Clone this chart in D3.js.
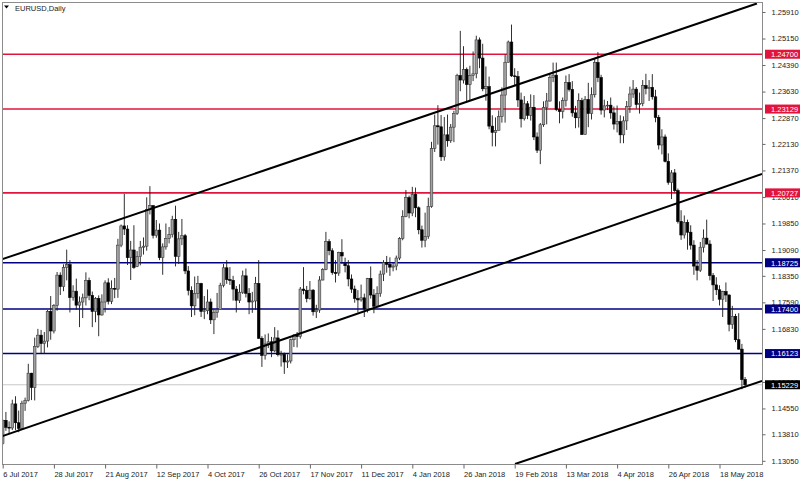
<!DOCTYPE html>
<html><head><meta charset="utf-8">
<script src="https://cdn.jsdelivr.net/npm/d3@7"></script>
<style>body{margin:0;background:#fff}svg{display:block}text{font-family:"Liberation Sans",Arial,sans-serif}</style>
</head><body><svg id="c" width="800" height="480"></svg>
<script>
const openP=[1.1355,1.1421,1.1401,1.1399,1.1468,1.1414,1.1398,1.1470,1.1478,1.1556,
1.1515,1.1633,1.1665,1.1641,1.1648,1.1733,1.1677,1.1750,1.1837,1.1804,
1.1859,1.1867,1.1773,1.1791,1.1751,1.1760,1.1772,1.1822,1.1779,1.1733,
1.1770,1.1723,1.1760,1.1815,1.1762,1.1799,1.1797,1.1923,1.1978,1.1969,
1.1887,1.1909,1.1862,1.1890,1.1917,1.1920,1.2025,1.2036,1.1951,1.1966,
1.1887,1.1918,1.1942,1.1953,1.1997,1.1891,1.1941,1.1950,1.1849,1.1793,
1.1749,1.1785,1.1813,1.1733,1.1735,1.1760,1.1709,1.1730,1.1738,1.1808,
1.1858,1.1824,1.1822,1.1797,1.1765,1.1788,1.1835,1.1785,1.1760,1.1763,
1.1813,1.1656,1.1607,1.1640,1.1646,1.1620,1.1657,1.1609,1.1610,1.1588,
1.1591,1.1652,1.1665,1.1661,1.1797,1.1793,1.1770,1.1794,1.1732,1.1737,
1.1823,1.1853,1.1933,1.1907,1.1844,1.1843,1.1902,1.1870,1.1864,1.1826,
1.1797,1.1770,1.1766,1.1772,1.1740,1.1827,1.1780,1.1748,1.1784,1.1840,
1.1873,1.1868,1.1860,1.1863,1.1886,1.1942,1.2005,1.2059,1.2015,1.2068,
1.2030,1.1967,1.1937,1.1948,1.2034,1.2200,1.2265,1.2262,1.2176,1.2239,
1.2222,1.2261,1.2300,1.2409,1.2396,1.2426,1.2383,1.2409,1.2414,1.2511,
1.2459,1.2371,1.2377,1.2264,1.2246,1.2252,1.2291,1.2353,1.2447,1.2505,
1.2408,1.2406,1.2339,1.2285,1.2328,1.2295,1.2318,1.2233,1.2195,1.2268,
1.2317,1.2336,1.2404,1.2410,1.2312,1.2306,1.2337,1.2389,1.2369,1.2302,
1.2288,1.2337,1.2240,1.2340,1.2300,1.2354,1.2446,1.2403,1.2310,1.2322,
1.2324,1.2302,1.2270,1.2277,1.2239,1.2279,1.2320,1.2356,1.2370,1.2326,
1.2329,1.2380,1.2372,1.2375,1.2348,1.2289,1.2210,1.2233,1.2163,1.2103,
1.2130,1.2079,1.1991,1.1952,1.1988,1.1960,1.1923,1.1863,1.1851,1.1917,
1.1943,1.1926,1.1836,1.1809,1.1795,1.1768,1.1790,1.1780,1.1696,1.1719,
1.1652,1.1625,1.1538];
const highP=[1.1424,1.1445,1.1418,1.1480,1.1490,1.1449,1.1477,1.1486,1.1583,1.1557,
1.1658,1.1683,1.1680,1.1674,1.1737,1.1777,1.1754,1.1846,1.1845,1.1868,
1.1910,1.1880,1.1808,1.1827,1.1776,1.1784,1.1845,1.1830,1.1790,1.1774,
1.1779,1.1782,1.1822,1.1828,1.1822,1.1829,1.1941,1.1982,1.2070,1.1980,
1.1935,1.1980,1.1906,1.1935,1.1945,1.2060,1.2092,1.2038,1.1995,1.1985,
1.1928,1.1985,1.1975,1.2007,1.2036,1.1961,1.1998,1.1955,1.1863,1.1805,
1.1833,1.1835,1.1815,1.1777,1.1796,1.1770,1.1739,1.1786,1.1815,1.1869,
1.1880,1.1860,1.1835,1.1806,1.1811,1.1850,1.1856,1.1800,1.1789,1.1832,
1.1880,1.1662,1.1667,1.1670,1.1660,1.1688,1.1679,1.1620,1.1615,1.1610,
1.1655,1.1668,1.1674,1.1803,1.1860,1.1806,1.1820,1.1797,1.1752,1.1834,
1.1857,1.1961,1.1940,1.1914,1.1880,1.1904,1.1940,1.1887,1.1880,1.1839,
1.1807,1.1794,1.1810,1.1784,1.1829,1.1862,1.1797,1.1805,1.1850,1.1880,
1.1892,1.1888,1.1872,1.1893,1.1946,1.2023,1.2081,1.2065,1.2090,1.2088,
1.2034,1.1979,1.2016,1.2059,1.2219,1.2297,1.2324,1.2296,1.2290,1.2297,
1.2270,1.2308,1.2414,1.2537,1.2493,1.2432,1.2437,1.2478,1.2523,1.2518,
1.2500,1.2435,1.2406,1.2295,1.2289,1.2309,1.2375,1.2469,1.2509,1.2555,
1.2430,1.2422,1.2360,1.2350,1.2336,1.2355,1.2353,1.2246,1.2273,1.2335,
1.2359,1.2416,1.2446,1.2446,1.2335,1.2346,1.2409,1.2413,1.2393,1.2322,
1.2358,1.2345,1.2350,1.2388,1.2375,1.2456,1.2476,1.2411,1.2340,1.2336,
1.2346,1.2320,1.2323,1.2295,1.2292,1.2336,1.2377,1.2396,1.2376,1.2360,
1.2396,1.2414,1.2396,1.2413,1.2368,1.2296,1.2255,1.2240,1.2186,1.2138,
1.2141,1.2085,1.2023,1.2008,1.1996,1.1980,1.1937,1.1880,1.1932,1.1968,
1.1996,1.1937,1.1843,1.1831,1.1808,1.1792,1.1816,1.1782,1.1749,1.1726,
1.1728,1.1640,1.1545];
const lowP=[1.1350,1.1391,1.1381,1.1393,1.1393,1.1387,1.1394,1.1448,1.1475,1.1479,
1.1478,1.1628,1.1613,1.1611,1.1630,1.1652,1.1670,1.1735,1.1780,1.1791,
1.1822,1.1730,1.1764,1.1738,1.1688,1.1714,1.1750,1.1765,1.1688,1.1702,
1.1662,1.1721,1.1730,1.1753,1.1754,1.1771,1.1772,1.1917,1.1952,1.1866,
1.1823,1.1855,1.1860,1.1865,1.1896,1.1907,1.2011,1.1942,1.1944,1.1880,
1.1838,1.1910,1.1928,1.1945,1.1862,1.1869,1.1923,1.1840,1.1779,1.1717,
1.1722,1.1770,1.1717,1.1711,1.1725,1.1697,1.1668,1.1715,1.1737,1.1802,
1.1812,1.1809,1.1764,1.1730,1.1757,1.1783,1.1773,1.1725,1.1729,1.1738,
1.1655,1.1574,1.1595,1.1628,1.1602,1.1616,1.1604,1.1575,1.1554,1.1571,
1.1584,1.1631,1.1630,1.1655,1.1782,1.1759,1.1767,1.1721,1.1714,1.1729,
1.1822,1.1851,1.1894,1.1838,1.1816,1.1835,1.1869,1.1845,1.1805,1.1786,
1.1758,1.1730,1.1761,1.1717,1.1730,1.1770,1.1728,1.1746,1.1775,1.1820,
1.1844,1.1835,1.1848,1.1851,1.1880,1.1937,1.2003,1.2000,1.2006,1.2003,
1.1954,1.1916,1.1917,1.1941,1.2030,1.2190,1.2211,1.2164,1.2165,1.2205,
1.2216,1.2218,1.2296,1.2364,1.2386,1.2335,1.2336,1.2393,1.2401,1.2430,
1.2364,1.2337,1.2255,1.2206,1.2206,1.2252,1.2274,1.2274,1.2446,1.2405,
1.2380,1.2319,1.2260,1.2280,1.2284,1.2280,1.2224,1.2187,1.2155,1.2262,
1.2269,1.2334,1.2390,1.2307,1.2272,1.2286,1.2320,1.2363,1.2291,1.2258,
1.2260,1.2239,1.2240,1.2261,1.2283,1.2346,1.2390,1.2297,1.2289,1.2310,
1.2285,1.2254,1.2246,1.2215,1.2215,1.2253,1.2302,1.2345,1.2314,1.2300,
1.2321,1.2355,1.2336,1.2340,1.2275,1.2197,1.2183,1.2160,1.2096,1.2055,
1.2074,1.1985,1.1938,1.1942,1.1910,1.1910,1.1838,1.1822,1.1846,1.1902,
1.1925,1.1822,1.1763,1.1780,1.1750,1.1717,1.1760,1.1676,1.1683,1.1645,
1.1623,1.1510,1.1515];
const closeP=[1.1421,1.1401,1.1399,1.1468,1.1414,1.1398,1.1470,1.1478,1.1556,1.1515,
1.1633,1.1665,1.1641,1.1648,1.1733,1.1677,1.1750,1.1837,1.1804,1.1859,
1.1867,1.1773,1.1791,1.1751,1.1760,1.1772,1.1822,1.1779,1.1733,1.1770,
1.1723,1.1760,1.1815,1.1762,1.1799,1.1797,1.1923,1.1978,1.1969,1.1887,
1.1909,1.1859,1.1890,1.1917,1.1920,1.2025,1.2036,1.1951,1.1966,1.1887,
1.1918,1.1942,1.1953,1.1997,1.1891,1.1941,1.1950,1.1849,1.1793,1.1749,
1.1785,1.1813,1.1733,1.1735,1.1760,1.1709,1.1730,1.1738,1.1808,1.1858,
1.1824,1.1822,1.1797,1.1765,1.1788,1.1835,1.1785,1.1760,1.1763,1.1813,
1.1656,1.1607,1.1640,1.1646,1.1620,1.1657,1.1609,1.1610,1.1588,1.1591,
1.1652,1.1665,1.1661,1.1797,1.1793,1.1770,1.1794,1.1732,1.1737,1.1823,
1.1853,1.1933,1.1907,1.1844,1.1843,1.1902,1.1892,1.1864,1.1826,1.1797,
1.1770,1.1766,1.1772,1.1740,1.1827,1.1780,1.1748,1.1784,1.1840,1.1873,
1.1868,1.1860,1.1863,1.1886,1.1942,1.2005,1.2059,1.2015,1.2068,1.2030,
1.1967,1.1937,1.1948,1.2034,1.2200,1.2265,1.2262,1.2176,1.2239,1.2222,
1.2261,1.2300,1.2409,1.2396,1.2426,1.2383,1.2409,1.2414,1.2511,1.2459,
1.2371,1.2377,1.2264,1.2246,1.2252,1.2291,1.2353,1.2447,1.2505,1.2408,
1.2406,1.2339,1.2285,1.2328,1.2295,1.2318,1.2233,1.2195,1.2268,1.2317,
1.2336,1.2404,1.2410,1.2312,1.2306,1.2337,1.2389,1.2369,1.2302,1.2288,
1.2337,1.2240,1.2340,1.2300,1.2354,1.2446,1.2403,1.2310,1.2322,1.2324,
1.2302,1.2270,1.2277,1.2239,1.2279,1.2320,1.2356,1.2370,1.2326,1.2329,
1.2380,1.2372,1.2375,1.2348,1.2289,1.2210,1.2233,1.2163,1.2103,1.2130,
1.2079,1.1991,1.1952,1.1988,1.1960,1.1923,1.1863,1.1851,1.1917,1.1943,
1.1926,1.1836,1.1809,1.1795,1.1768,1.1790,1.1780,1.1696,1.1719,1.1652,
1.1625,1.1538,1.15229];

const xTickIndex=[0,16,32,48,64,80,96,112,128,144,160,176,192,208,224];
const xTickLabels=["6 Jul 2017","28 Jul 2017","21 Aug 2017","12 Sep 2017","4 Oct 2017","26 Oct 2017","17 Nov 2017","11 Dec 2017","4 Jan 2018","26 Jan 2018","19 Feb 2018","13 Mar 2018","4 Apr 2018","26 Apr 2018","18 May 2018"];
const priceTicks=[1.25910,1.25150,1.24390,1.23630,1.22870,1.22130,1.21370,1.20610,1.19850,1.19090,1.18350,1.17590,1.16830,1.15310,1.14550,1.13810,1.13050];
const redLevels=[1.24700,1.23129,1.20727];
const blueLevels=[1.18725,1.17400,1.16123];
const bidPrice=1.15229;
const trendStart=[[-0.84,1.18804],[-0.84,1.13732],[160.1,1.12959]];
const trendEnd=[[235.7,1.26154],[237.3,1.21268],[237.3,1.15337]];
const title="EURUSD,Daily";

const W=800,H=480,L=2,T=2,R=762,B=464;
const svg=d3.select("#c");
const x=d3.scaleLinear().domain([0,232]).range([2.7,2.7+3.2*232]);
const y=d3.scaleLinear().domain([1.13050,1.25910]).range([460.8,12]);
const RED="#e0143c",NAVY="#000080";

svg.append("defs").append("clipPath").attr("id","pc").append("rect")
  .attr("x",L).attr("y",T).attr("width",R-L).attr("height",B-T);
const plot=svg.append("g").attr("clip-path","url(#pc)");

plot.append("line").attr("x1",L).attr("x2",R).attr("y1",y(bidPrice)).attr("y2",y(bidPrice))
  .attr("stroke","#c8c8c8").attr("stroke-width",1);
plot.selectAll(".red").data(redLevels).join("line")
  .attr("x1",L).attr("x2",R).attr("y1",d=>y(d)).attr("y2",d=>y(d))
  .attr("stroke",RED).attr("stroke-width",1.6);
plot.selectAll(".blue").data(blueLevels).join("line")
  .attr("x1",L).attr("x2",R).attr("y1",d=>y(d)).attr("y2",d=>y(d))
  .attr("stroke",NAVY).attr("stroke-width",1.6);

const idx=d3.range(closeP.length);
const cg=plot.append("g");
cg.selectAll("line.w").data(idx).join("line")
  .attr("x1",i=>x(i)).attr("x2",i=>x(i)).attr("y1",i=>y(highP[i])).attr("y2",i=>y(lowP[i]))
  .attr("stroke","#1a1a1a").attr("stroke-width",0.9);
cg.selectAll("rect.b").data(idx).join("rect")
  .attr("x",i=>x(i)-1.3).attr("width",2.6)
  .attr("y",i=>y(Math.max(openP[i],closeP[i])))
  .attr("height",i=>Math.max(0.8,Math.abs(y(openP[i])-y(closeP[i]))))
  .attr("fill",i=>closeP[i]>=openP[i]?"#a0a0a0":"#000")
  .attr("stroke",i=>closeP[i]>=openP[i]?"#3a3a3a":"#000").attr("stroke-width",0.6);

plot.selectAll("line.t").data(d3.range(trendStart.length)).join("line")
  .attr("x1",k=>x(trendStart[k][0])).attr("y1",k=>y(trendStart[k][1]))
  .attr("x2",k=>x(trendEnd[k][0])).attr("y2",k=>y(trendEnd[k][1]))
  .attr("stroke","#000").attr("stroke-width",2);

svg.append("rect").attr("x",L+0.5).attr("y",T+0.5).attr("width",R-L).attr("height",B-T)
  .attr("fill","none").attr("stroke","#8c8c8c").attr("stroke-width",1);

const ya=svg.append("g").attr("transform",`translate(${R+0.5},0)`)
  .call(d3.axisRight(y).tickValues(priceTicks).tickSize(3).tickPadding(6).tickFormat(d3.format(".5f")));
ya.select(".domain").remove();
ya.selectAll("line").attr("stroke","#666");
ya.selectAll("text").attr("font-size","7.5px").attr("fill","#222");

const xa=svg.append("g").attr("transform",`translate(0,${B+0.5})`)
  .call(d3.axisBottom(x).tickValues(xTickIndex).tickSize(4).tickPadding(3).tickFormat((d,i)=>xTickLabels[i]));
xa.select(".domain").remove();
xa.selectAll("line").attr("stroke","#666");
xa.selectAll("text").attr("font-size","7.5px").attr("fill","#222").attr("text-anchor","start").attr("x",0);

function box(v,col){
  const g=svg.append("g");
  g.append("rect").attr("x",R+3).attr("y",y(v)-4.5).attr("width",W-R-3).attr("height",9).attr("fill",col);
  g.append("text").attr("x",R+9).attr("y",y(v)+2.8).attr("font-size","7.5px").attr("fill","#fff")
    .text(d3.format(".5f")(v));
}
redLevels.forEach(v=>box(v,RED));
blueLevels.forEach(v=>box(v,NAVY));
box(bidPrice,"#000");

svg.append("path").attr("d","M4,5.5 L9,5.5 L6.5,8.5 Z").attr("fill","#000");
svg.append("text").attr("x",15).attr("y",10.5).attr("font-size","7.5px").attr("fill","#222").text(title);
</script></body></html>
